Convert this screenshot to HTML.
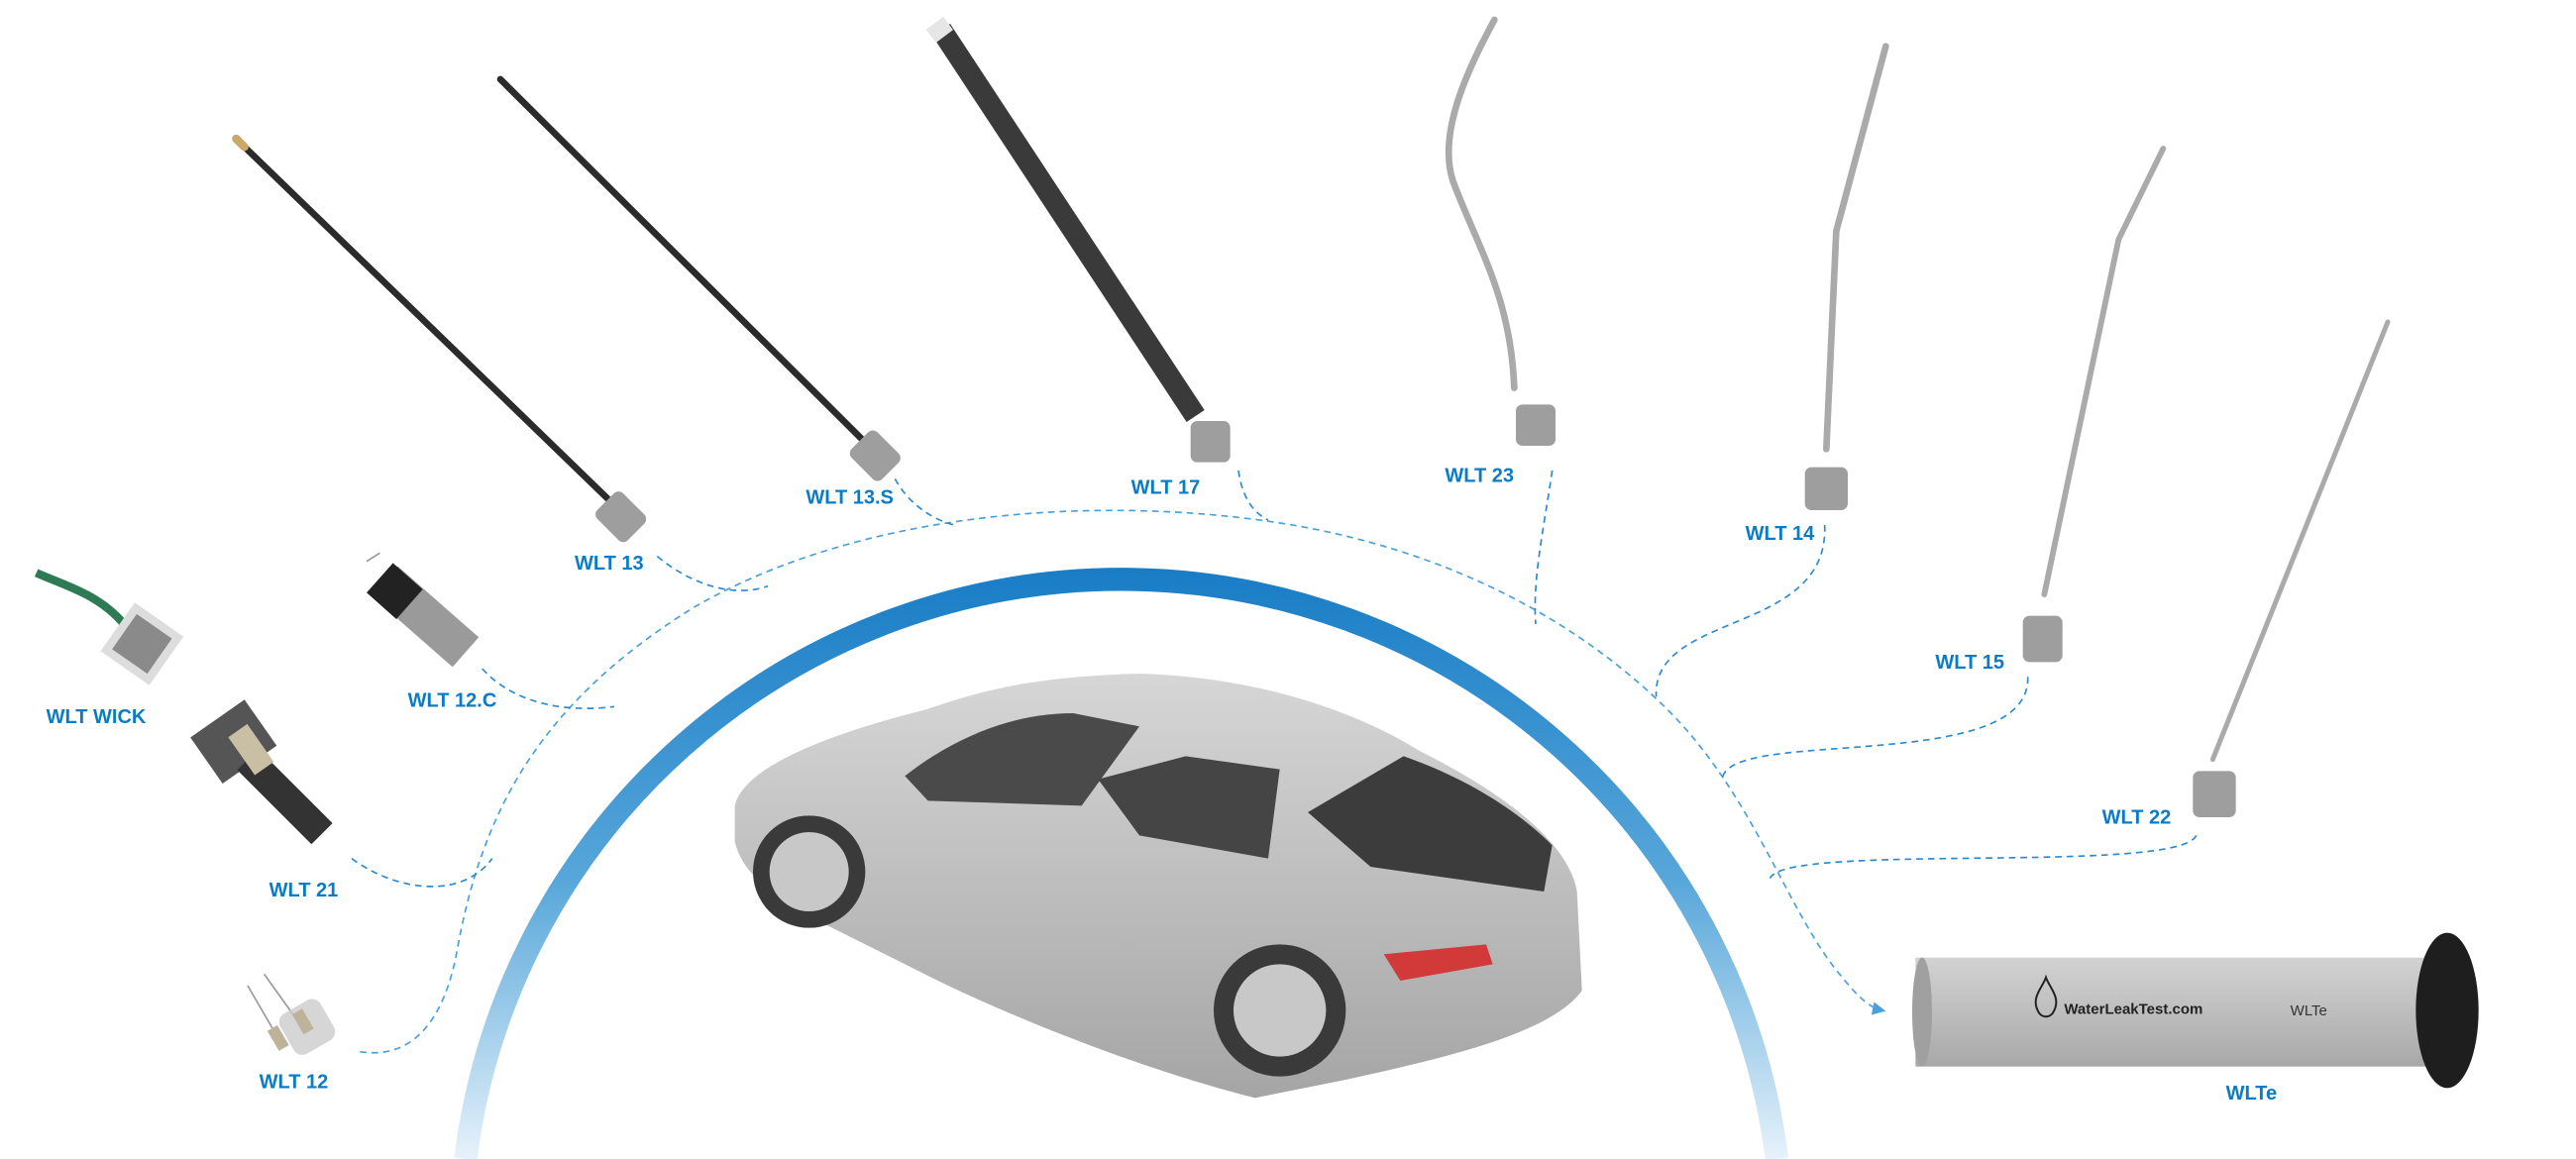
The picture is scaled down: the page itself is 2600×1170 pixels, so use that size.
<!DOCTYPE html>
<html><head><meta charset="utf-8"><style>
html,body{margin:0;padding:0;background:#fff;}
svg{display:block;}
text{font-family:"Liberation Sans",sans-serif;}
</style></head><body>
<svg width="2600" height="1170" viewBox="0 0 1560 702" xmlns="http://www.w3.org/2000/svg">
<defs>
<linearGradient id="ag" x1="0" y1="330" x2="0" y2="702" gradientUnits="userSpaceOnUse">
<stop offset="0" stop-color="#1479c4"/><stop offset="0.55" stop-color="#58a7da"/><stop offset="1" stop-color="#e6f2fa"/>
</linearGradient>
<linearGradient id="tube" x1="0" y1="0" x2="0" y2="1">
<stop offset="0" stop-color="#d2d2d2"/><stop offset="0.4" stop-color="#c2c2c2"/><stop offset="1" stop-color="#a8a8a8"/>
</linearGradient>
<linearGradient id="carg" x1="0" y1="0" x2="0" y2="1">
<stop offset="0" stop-color="#d6d6d6"/><stop offset="1" stop-color="#a5a5a5"/>
</linearGradient>
<marker id="ar" markerWidth="8" markerHeight="8" refX="6" refY="4" orient="auto"><path d="M0,0 L8,4 L0,8 Z" fill="#4aa0dc"/></marker>
</defs>

<path d="M282,702 A400,400 0 0 1 1076,702" fill="none" stroke="url(#ag)" stroke-width="14"/>

<g fill="none" stroke="#2a8ad0" stroke-width="1" stroke-dasharray="4 3">
<path d="M218,637 C250,642 268,618 276,580 C290,500 320,430 420,368 C520,310 660,300 770,316 C880,332 960,380 1010,430 C1060,480 1080,545 1110,585 C1122,600 1130,610 1140,612" stroke="#4aa0dc" marker-end="url(#ar)"/>
<path d="M213,520 C240,540 280,545 298,520"/>
<path d="M292,405 C310,425 340,432 372,428"/>
<path d="M398,337 C420,355 445,362 465,355"/>
<path d="M542,290 C550,305 565,315 578,318"/>
<path d="M750,285 C752,300 758,310 768,315"/>
<path d="M940,285 C935,320 928,350 930,378"/>
<path d="M1105,318 C1108,385 1000,370 1003,422"/>
<path d="M1228,410 C1230,470 1045,440 1043,472"/>
<path d="M1330,506 C1320,530 1080,510 1072,532"/>
</g>

<g stroke-linecap="round">
<line x1="145" y1="86" x2="368" y2="302" stroke="#2b2b2b" stroke-width="4"/>
<line x1="143" y1="84" x2="148" y2="89" stroke="#c9a86a" stroke-width="5"/>
<line x1="303" y1="48" x2="522" y2="266" stroke="#2b2b2b" stroke-width="4"/>
<line x1="570" y1="18" x2="724" y2="252" stroke="#3a3a3a" stroke-width="13" stroke-linecap="butt"/>
<line x1="566" y1="14" x2="572" y2="22" stroke="#e6e6e6" stroke-width="13" stroke-linecap="butt"/>
<path d="M905,12 C890,40 870,80 880,110 C895,150 915,180 917,235" fill="none" stroke="#aaa" stroke-width="4"/>
<path d="M1142,28 L1112,140 L1106,272" fill="none" stroke="#aaa" stroke-width="4"/>
<path d="M1310,90 L1283,145 L1238,360" fill="none" stroke="#aaa" stroke-width="3.5"/>
<path d="M1446,195 L1340,460" fill="none" stroke="#aaa" stroke-width="3"/>
</g>
<g fill="#9e9e9e">
<rect x="365" y="300" width="22" height="26" rx="4" transform="rotate(-45 376 313)"/>
<rect x="519" y="263" width="22" height="26" rx="4" transform="rotate(-45 530 276)"/>
<rect x="721" y="255" width="24" height="25" rx="4"/>
<rect x="918" y="245" width="24" height="25" rx="4"/>
<rect x="1093" y="283" width="26" height="26" rx="4"/>
<rect x="1225" y="373" width="24" height="28" rx="4"/>
<rect x="1328" y="467" width="26" height="28" rx="4"/>
</g>

<path d="M22,347 C40,355 60,360 75,378" fill="none" stroke="#2d7a55" stroke-width="5"/>
<rect x="68" y="372" width="36" height="36" fill="#ddd" transform="rotate(35 86 390)"/>
<rect x="73" y="377" width="26" height="26" fill="#8a8a8a" transform="rotate(35 86 390)"/>
<rect x="122" y="432" width="40" height="34" fill="#555" transform="rotate(-35 142 450)"/>
<line x1="150" y1="460" x2="195" y2="505" stroke="#333" stroke-width="18"/>
<rect x="145" y="440" width="14" height="28" fill="#c9bfa5" transform="rotate(-35 152 454)"/>
<line x1="233" y1="352" x2="282" y2="395" stroke="#9a9a9a" stroke-width="24"/>
<line x1="230" y1="350" x2="248" y2="366" stroke="#222" stroke-width="24"/>
<line x1="222" y1="340" x2="230" y2="335" stroke="#999" stroke-width="1"/>
<line x1="150" y1="597" x2="168" y2="628" stroke="#999" stroke-width="1"/>
<line x1="160" y1="590" x2="180" y2="618" stroke="#999" stroke-width="1"/>
<rect x="172" y="608" width="28" height="28" rx="6" fill="#ccc" opacity="0.8" transform="rotate(-30 186 622)"/>
<rect x="165" y="622" width="7" height="14" fill="#bdb39a" transform="rotate(-30 168 629)"/>
<rect x="180" y="612" width="7" height="14" fill="#bdb39a" transform="rotate(-30 183 619)"/>

<!-- car -->
<g>
<path d="M445,488 C450,465 500,445 560,430 C590,420 620,410 690,408 C760,410 820,430 860,455 C910,480 950,510 955,540 L958,600 C940,625 880,640 810,655 L760,665 C700,650 620,620 560,590 L500,560 C470,545 450,530 445,510 Z" fill="url(#carg)"/>
<path d="M548,470 C580,445 615,432 650,432 L690,440 L655,488 L562,485 Z" fill="#4a4a4a"/>
<path d="M665,472 L718,458 L775,466 L768,520 L690,506 Z" fill="#454545"/>
<path d="M792,492 L850,458 C890,472 920,492 940,512 L935,540 L830,525 Z" fill="#3c3c3c"/>
<path d="M838,578 L900,572 L904,584 L848,594 Z" fill="#d23a3a"/>
<circle cx="490" cy="528" r="34" fill="#3a3a3a"/>
<circle cx="490" cy="528" r="24" fill="#c8c8c8"/>
<circle cx="775" cy="612" r="40" fill="#3a3a3a"/>
<circle cx="775" cy="612" r="28" fill="#c8c8c8"/>
</g>

<!-- WLTe -->
<rect x="1160" y="580" width="312" height="66" fill="url(#tube)"/>
<ellipse cx="1164" cy="613" rx="6" ry="33" fill="#a0a0a0"/>
<ellipse cx="1482" cy="612" rx="19" ry="47" fill="#1e1e1e"/>
<path d="M1234,612 C1230,604 1237,598 1239,592 C1241,598 1248,604 1244,612 C1242,617 1236,617 1234,612 Z" fill="none" stroke="#222" stroke-width="1.2"/>
<text x="1250" y="614" font-size="9" font-weight="bold" fill="#222">WaterLeakTest.com</text>
<text x="1387" y="615" font-size="9" fill="#333">WLTe</text>

<g font-size="12" font-weight="bold" fill="#0a7cc7">
<text x="28" y="438">WLT WICK</text>
<text x="163" y="543">WLT 21</text>
<text x="157" y="659">WLT 12</text>
<text x="247" y="428">WLT 12.C</text>
<text x="348" y="345">WLT 13</text>
<text x="488" y="305">WLT 13.S</text>
<text x="685" y="299">WLT 17</text>
<text x="875" y="292">WLT 23</text>
<text x="1057" y="327">WLT 14</text>
<text x="1172" y="405">WLT 15</text>
<text x="1273" y="499">WLT 22</text>
<text x="1348" y="666">WLTe</text>
</g>
</svg>
</body></html>
